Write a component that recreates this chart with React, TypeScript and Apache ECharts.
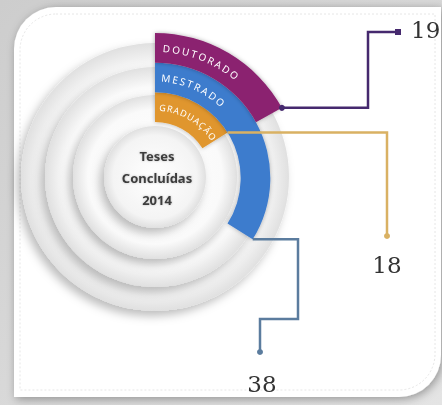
import React, { useEffect, useRef } from 'react';
import * as echarts from 'echarts';

// ---- data ----
const categories = ['Graduação', 'Mestrado', 'Doutorado'];
const arcLabels = ['GRADUAÇÃO', 'MESTRADO', 'DOUTORADO'];
const values = [18, 38, 19];
const barColors = ['#e0962e', '#3d7bcd', '#8b2470'];
const lineColors = ['#d9b163', '#5b7c9e', '#45296e'];
const centerTitle = ['Teses', 'Concluídas', '2014'];

// ---- layout ----
const W = 442;
const H = 405;
const CX = 155;
const CY = 178;
const R_IN = 56;
const R_OUT = 145;
const ANGLE_MAX = 112;
const BAND = (R_OUT - R_IN) / categories.length;

function measure(text: string, font: string): number {
  const c = document.createElement('canvas').getContext('2d');
  if (!c) return 7;
  c.font = font;
  return c.measureText(text).width;
}

function endPoint(i: number) {
  const deg = 90 - (values[i] / ANGLE_MAX) * 360;
  const rad = (deg * Math.PI) / 180;
  const r = R_IN + (i + 1) * BAND;
  return [CX + r * Math.cos(rad), CY - r * Math.sin(rad)];
}

function buildGraphics(): any[] {
  const els: any[] = [];
  els.push({
    type: 'rect', z: 0,
    shape: { x: 0, y: 0, width: W, height: H },
    style: {
      fill: new echarts.graphic.LinearGradient(0, 0, 1, 1, [
        { offset: 0, color: '#cdcdcd' },
        { offset: 1, color: '#e4e4e4' },
      ]),
    },
  });
  els.push({
    type: 'rect', z: 1,
    shape: { x: 14, y: 7, width: 427, height: 390, r: [42, 0, 42, 0] },
    style: { fill: '#ffffff', shadowBlur: 10, shadowColor: 'rgba(0,0,0,0.35)', shadowOffsetX: 2, shadowOffsetY: 2 },
  });
  els.push({
    type: 'rect', z: 1,
    shape: { x: 20, y: 14, width: 415, height: 376, r: [36, 0, 36, 0] },
    style: { fill: 'none', stroke: '#e6e6e6', lineWidth: 1, lineDash: [2, 2] },
  });
  const discRadii = [134, 110, 82, 51];
  discRadii.forEach((r, k) => {
    els.push({
      type: 'circle', z: 2,
      shape: { cx: CX, cy: CY - 1, r },
      style: {
        fill: new echarts.graphic.RadialGradient(0.5, 0.5, 0.5, [
          { offset: 0, color: '#ffffff' },
          { offset: 0.82, color: k === 3 ? '#f4f4f4' : '#fafafa' },
          { offset: 1, color: '#e0e0e0' },
        ]),
        shadowBlur: 10,
        shadowColor: 'rgba(0,0,0,0.26)',
        shadowOffsetX: -4,
        shadowOffsetY: 5,
      },
    });
  });
  els.push({
    type: 'text', z: 3,
    x: CX + 2, y: CY,
    style: {
      text: centerTitle.join('\n'),
      font: "bold 13px 'Noto Sans'",
      lineHeight: 22,
      fill: '#3c3c3c',
      align: 'center', verticalAlign: 'middle',
      textAlign: 'center', textVerticalAlign: 'middle',
      textShadowColor: 'rgba(0,0,0,0.25)', textShadowBlur: 2,
    },
  });
  arcLabels.forEach((label, i) => {
    const r = R_IN + (i + 0.5) * BAND;
    const fontSize = i === 0 ? 9 : 10;
    const spacing = i === 0 ? 1.3 : 2.2;
    const font = `${fontSize}px 'Noto Sans'`;
    let a = (87 * Math.PI) / 180;
    for (const ch of label) {
      const w = measure(ch, font) + spacing;
      const mid = a - w / 2 / r;
      els.push({
        type: 'text', z: 8,
        x: CX + r * Math.cos(mid), y: CY - r * Math.sin(mid),
        rotation: mid - Math.PI / 2,
        style: {
          text: ch, font, fill: '#ffffff',
          align: 'center', verticalAlign: 'middle',
          textAlign: 'center', textVerticalAlign: 'middle',
        },
      });
      a -= w / r;
    }
  });
  const routes = [
    (s: number[]) => [s, [387, s[1]], [387, 236]],
    (s: number[]) => [s, [298, s[1]], [298, 319], [260, 319], [260, 352]],
    (s: number[]) => [s, [368, s[1]], [368, 32], [398, 32]],
  ];
  const labelPos: [number, number, string][] = [
    [387, 265, 'center'],
    [262, 384, 'center'],
    [411, 30, 'left'],
  ];
  values.forEach((v, i) => {
    const s = endPoint(i);
    const pts = routes[i](s);
    els.push({
      type: 'polyline', z: 10,
      shape: { points: pts },
      style: { stroke: lineColors[i], lineWidth: 2.5, fill: null, lineJoin: 'miter' },
    });
    const e = pts[pts.length - 1];
    if (i === 2) {
      els.push({ type: 'rect', z: 10, shape: { x: e[0] - 3, y: e[1] - 3, width: 6, height: 6 }, style: { fill: lineColors[i] } });
      els.push({ type: 'circle', z: 10, shape: { cx: s[0], cy: s[1], r: 3 }, style: { fill: lineColors[i] } });
    } else {
      els.push({ type: 'circle', z: 10, shape: { cx: e[0], cy: e[1], r: 3 }, style: { fill: lineColors[i] } });
    }
    const lp = labelPos[i];
    els.push({
      type: 'text', z: 10,
      x: lp[0], y: lp[1],
      style: {
        text: String(v),
        font: "23px 'DejaVu Serif'",
        fill: '#333333',
        align: lp[2], verticalAlign: 'middle',
        textAlign: lp[2], textVerticalAlign: 'middle',
      },
    });
  });
  return els;
}

export default function App() {
  const ref = useRef<HTMLDivElement>(null);
  useEffect(() => {
    if (!ref.current) return;
    const chart = echarts.init(ref.current, undefined, { renderer: 'svg' });
    chart.setOption({
      animation: false,
      polar: { center: [CX, CY], radius: [R_IN, R_OUT] },
      angleAxis: {
        type: 'value', min: 0, max: ANGLE_MAX, startAngle: 90, clockwise: true,
        show: false,
      },
      radiusAxis: { type: 'category', data: categories, show: false },
      series: [
        {
          type: 'bar',
          coordinateSystem: 'polar',
          z: 5,
          barCategoryGap: '0%',
          data: values.map((v, i) => ({
            value: v,
            itemStyle: { color: barColors[i], shadowBlur: 4, shadowColor: 'rgba(0,0,0,0.3)' },
          })),
        },
      ],
      graphic: { elements: buildGraphics() },
    });
    return () => chart.dispose();
  }, []);
  return (
    <div
      ref={ref}
      style={{ position: 'fixed', left: 0, top: 0, width: W, height: H }}
    />
  );
}
